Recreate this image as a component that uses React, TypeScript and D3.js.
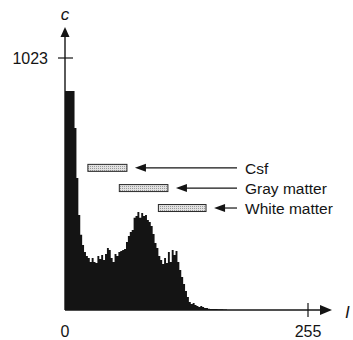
import React from 'react';
import * as d3 from 'd3';

// histogram counts, bins of 2 grey levels starting at 0
const binWidth = 2;
const counts = [
  889, 889, 889, 889, 889, 739, 536, 386, 305, 264,
  235, 219, 211, 195, 211, 195, 191, 219, 207, 223,
  203, 227, 252, 244, 211, 195, 227, 219, 235, 240,
  244, 248, 276, 300, 317, 325, 374, 382, 398, 374,
  394, 382, 386, 365, 357, 341, 309, 272, 252, 219,
  203, 187, 211, 191, 235, 195, 244, 223, 240, 195,
  162, 134, 106, 77, 53, 32, 24, 28, 20, 16,
  12, 16, 12, 8, 8, 5, 4, 4, 4, 4,
  3, 3, 3, 2, 2,
];

const classes = ['Csf', 'Gray matter', 'White matter'];
const classRanges = [[24, 65], [57, 108], [98, 148]];
const classLevels = [577, 495, 414];

const xTicks = [0, 255];
const yTicks = [1023];

const W = 353;
const H = 340;

export default function App() {
  const x = d3.scaleLinear().domain([0, 255]).range([65, 308]);
  const y = d3.scaleLinear().domain([0, 1023]).range([310, 58]);
  const font = 'Liberation Sans, Arial, sans-serif';
  const ink = '#141414';

  const pts = counts.map((c, i) => [i * binWidth, c] as [number, number]);
  pts.push([counts.length * binWidth, 0]);
  const area = d3
    .area<[number, number]>()
    .x((d) => x(d[0]))
    .y0(y(0))
    .y1((d) => y(d[1]))
    .curve(d3.curveStepAfter);

  return (
    <svg width={W} height={H} style={{ position: 'absolute', left: 0, top: 0, background: '#fff' }}>
      <defs>
        <pattern id="dots" width="2" height="2" patternUnits="userSpaceOnUse">
          <rect width="2" height="2" fill="#e2e2e2" />
          <rect width="1" height="1" fill="#9a9a9a" />
        </pattern>
      </defs>

      {/* histogram */}
      <path d={area(pts) || ''} fill={ink} />

      {/* axes */}
      <line x1={x(0)} y1={y(0)} x2={322} y2={y(0)} stroke={ink} strokeWidth={1.4} />
      <path d={`M332,${y(0)} L320,${y(0) - 5} L320,${y(0) + 5} Z`} fill={ink} />
      <line x1={x(0)} y1={y(0)} x2={x(0)} y2={37} stroke={ink} strokeWidth={1.4} />
      <path d={`M${x(0)},27 L${x(0) - 4.5},37 L${x(0) + 4.5},37 Z`} fill={ink} />

      {xTicks.map((t) => (
        <g key={t}>
          {t > 0 && <line x1={x(t)} x2={x(t)} y1={y(0) - 7} y2={y(0) + 7} stroke={ink} strokeWidth={1.2} />}
          <text x={x(t)} y={y(0) + 27} textAnchor="middle" fontFamily={font} fontSize={16} fill={ink}>{t}</text>
        </g>
      ))}
      {yTicks.map((t) => (
        <g key={t}>
          <line x1={x(0) - 7} x2={x(0) + 8} y1={y(t)} y2={y(t)} stroke={ink} strokeWidth={1.2} />
          <text x={x(0) - 17} y={y(t) + 6} textAnchor="end" fontFamily={font} fontSize={16} fill={ink}>{t}</text>
        </g>
      ))}

      <text x={x(0)} y={20} textAnchor="middle" fontFamily={font} fontStyle="italic" fontSize={17} fill={ink}>c</text>
      <text x={345} y={318} fontFamily={font} fontStyle="italic" fontSize={17} fill={ink}>I</text>

      {/* class ranges with labels */}
      {classes.map((name, i) => {
        const [a, b] = classRanges[i];
        const cy = y(classLevels[i]);
        const tip = x(b) + 8;
        return (
          <g key={name}>
            <rect x={x(a)} y={cy - 3.5} width={x(b) - x(a)} height={7} fill="url(#dots)" stroke="#2a2a2a" strokeWidth={1} />
            <line x1={tip + 8} x2={237} y1={cy} y2={cy} stroke={ink} strokeWidth={1.2} />
            <path d={`M${tip},${cy} L${tip + 11},${cy - 4} L${tip + 11},${cy + 4} Z`} fill={ink} />
            <text x={245} y={cy + 6} fontFamily={font} fontSize={15.5} fill={ink}>{name}</text>
          </g>
        );
      })}
    </svg>
  );
}
